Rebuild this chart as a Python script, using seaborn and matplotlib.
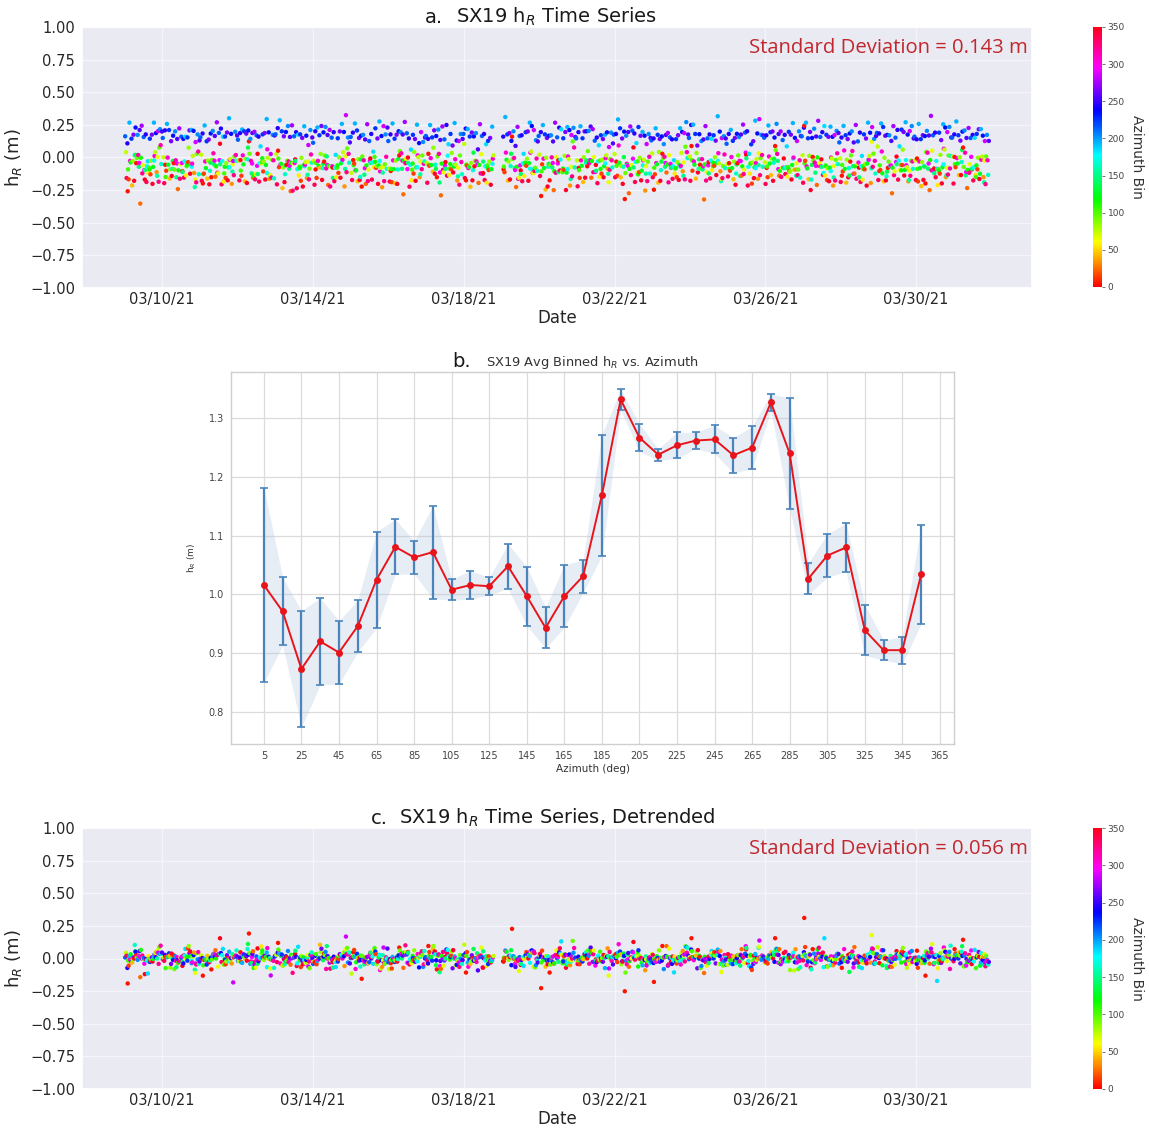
import numpy as np
import pandas as pd
import matplotlib
matplotlib.use("Agg")
import matplotlib.pyplot as plt
import matplotlib.dates as mdates
from matplotlib.colors import Normalize
from matplotlib.cm import ScalarMappable
import seaborn as sns

# ---------------- panel b: binned hR vs azimuth ----------------
az_bins = [5, 15, 25, 35, 45, 55, 65, 75, 85, 95, 105, 115, 125, 135, 145, 155, 165, 175,
           185, 195, 205, 215, 225, 235, 245, 255, 265, 275, 285, 295, 305, 315, 325, 335, 345, 355]
bin_mean = [1.016, 0.971, 0.873, 0.920, 0.901, 0.946, 1.025, 1.081, 1.063, 1.072, 1.008, 1.016,
            1.014, 1.048, 0.997, 0.943, 0.997, 1.031, 1.169, 1.332, 1.267, 1.238, 1.254, 1.262,
            1.264, 1.237, 1.250, 1.327, 1.240, 1.027, 1.066, 1.080, 0.939, 0.905, 0.905, 1.034]
bin_std = [0.166, 0.058, 0.099, 0.074, 0.054, 0.044, 0.082, 0.047, 0.028, 0.079, 0.018, 0.024,
           0.015, 0.038, 0.050, 0.035, 0.053, 0.028, 0.103, 0.018, 0.023, 0.010, 0.022, 0.014,
           0.024, 0.030, 0.036, 0.015, 0.094, 0.027, 0.037, 0.041, 0.043, 0.017, 0.023, 0.084]
az_ticks = list(range(5, 366, 20))

# ---------------- panels a / c: time series ----------------
start_date = "2021-03-09"
n_days = 23
gap_start = "2021-03-18 19:00"
gap_end = "2021-03-19 01:00"
sidereal_shift_h = 0.0655   # GPS tracks repeat ~4 min earlier each day

# daily satellite track schedule (hour of day, azimuth bin)
track_hour = [0.4, 0.9, 1.3, 1.8, 2.0, 2.2, 2.6, 3.1, 3.5, 3.9,
              4.4, 4.8, 5.2, 5.7, 6.1, 6.5, 6.8, 7.0, 7.4, 7.8,
              8.3, 8.7, 9.1, 9.4, 9.6, 10.0, 10.4, 10.9, 11.3, 11.7,
              12.2, 12.6, 12.9, 13.0, 13.5, 13.9, 14.3, 14.8, 15.2, 15.6,
              15.9, 16.1, 16.5, 16.9, 17.4, 17.8, 18.2, 18.7, 18.9, 19.1,
              19.5, 20.0, 20.4, 20.8, 21.0, 21.3, 21.7, 22.1, 22.6, 23.0,
              23.4, 23.8]
track_bin = [215, 75, 335, 245, 5, 105, 15, 195, 305, 125,
             225, 45, 85, 265, 345, 165, 135, 235, 5, 95,
             205, 315, 145, 295, 255, 25, 115, 275, 325, 65,
             215, 295, 355, 145, 245, 335, 175, 185, 55, 105,
             115, 225, 15, 85, 265, 345, 125, 195, 175, 305,
             75, 235, 35, 155, 65, 285, 325, 95, 205, 315,
             165, 255]

# normalised per-retrieval deviations from the bin mean (read as typical spread)
resid_norm = [0.3, -0.8, 1.1, -0.2, 0.6, -1.4, 0.1, 0.9, -0.5, 0.0, 1.7, -0.9, 0.4, -0.3,
              0.7, -1.1, 0.2, -0.6, 1.3, -0.1, 0.5, -2.1, 0.8, -0.4, 0.0, 1.0, -0.7, 0.3,
              -1.6, 0.6, 0.2, -0.2, 2.2, -0.8, 0.4, -0.5, 0.9, -1.2, 0.1, 0.7, -0.3, 1.5,
              -1.0, 0.0, 0.5, -0.6, 1.2, -0.1, -1.8, 0.6, 0.3, -0.4, 0.8, -0.9, 0.2, 1.9,
              -0.2, 0.4, -1.3, 0.1, 0.7, -0.7, 0.0, 1.1, -0.5, 0.3, -2.4, 0.9, -0.1, 0.5,
              -0.8, 1.4, -0.3, 0.2, -1.0, 0.6, 0.0, -0.6, 2.6, -0.4, 0.3, -1.5, 0.8, 0.1,
              -0.2, 1.0, -0.9, 0.4, -0.1, 0.7, -1.1, 0.2, 1.6, -0.7, 0.5, -0.3, 0.9, -1.7,
              0.0, 0.6, -0.4, 1.2, -0.8, 0.3, -0.2, 2.0, -1.2, 0.1, 0.4, -0.6, 0.8, -0.1,
              1.3, -0.5, 0.2, -1.9, 0.6, 0.0, -0.3, 1.8, -0.7, 0.4, -1.0, 0.1, 0.9, -0.4,
              0.2]
resid_floor = 0.02   # m, common noise level
resid_gain = 0.6     # fraction of bin spread

std_text_a = "Standard Deviation = 0.143 m"
std_text_c = "Standard Deviation = 0.056 m"

# ---------------- build table ----------------
mean_of = dict(zip(az_bins, bin_mean))
std_of = dict(zip(az_bins, bin_std))
t0 = pd.Timestamp(start_date)
rows = []
nres = len(resid_norm)
for d in range(n_days):
    for j, (h, b) in enumerate(zip(track_hour, track_bin)):
        t = t0 + pd.Timedelta(days=d) + pd.Timedelta(hours=h - sidereal_shift_h * d)
        r = resid_norm[(j * 7 + d * 31) % nres] * (resid_floor + resid_gain * std_of[b])
        rows.append((t, b, mean_of[b] + r, r))
df = pd.DataFrame(rows, columns=["time", "az", "raw", "detr"])
df = df[~((df.time > pd.Timestamp(gap_start)) & (df.time < pd.Timestamp(gap_end)))]
df["hr"] = df["raw"] - df["raw"].mean()

# ---------------- figure ----------------
sns.set_theme(style="darkgrid")
plt.rcParams['font.family'] = ['DejaVu Sans']
W, H = 1149, 1131
fig = plt.figure(figsize=(W / 100, H / 100), dpi=100)


def frac(l, t, r, b):
    return [l / W, 1 - b / H, (r - l) / W, (b - t) / H]


norm = Normalize(0, 350)
cmap = plt.get_cmap("hsv")
red = "#C1272D"
dark = "#262626"


def ts_panel(ax_rect, cb_rect, ycol, title, letter, letter_x, std_text):
    ax = fig.add_axes(frac(*ax_rect))
    sns.scatterplot(data=df, x="time", y=ycol, hue="az", palette="hsv", hue_norm=(0, 350),
                    s=10, linewidth=0, legend=False, ax=ax)
    ax.set_ylim(-1, 1)
    ax.set_yticks(np.arange(-1, 1.01, 0.25))
    ax.xaxis.set_major_locator(mdates.DayLocator(bymonthday=[10, 14, 18, 22, 26, 30]))
    ax.xaxis.set_major_formatter(mdates.DateFormatter("%m/%d/%y"))
    ax.grid(True, color="#f6f6fa", linewidth=0.9)
    ax.tick_params(axis="both", labelsize=10.5, colors=dark, length=0)
    ax.tick_params(axis="y", pad=5)
    ax.tick_params(axis="x", pad=3)
    ax.set_xlabel("Date", fontsize=12, color=dark, labelpad=1)
    ax.set_ylabel(r"h$_R$ (m)", fontsize=13, color=dark, labelpad=4)
    ax.set_title(title, fontsize=14, color="#1a1a1a", pad=3)
    fig.text(letter_x / W, 1 - (ax_rect[1] - 4) / H, letter, fontsize=14, color="#1a1a1a",
             ha="left", va="baseline")
    ax.text(0.996, 0.90, std_text, transform=ax.transAxes, ha="right", va="baseline",
            fontsize=14.6, color=red, family="Open Sans")
    cax = fig.add_axes(frac(*cb_rect))
    cb = fig.colorbar(ScalarMappable(norm=norm, cmap=cmap), cax=cax,
                      ticks=list(range(0, 351, 50)))
    cb.outline.set_visible(False)
    cax.tick_params(labelsize=6.5, colors="#444444", length=2, width=0.5, pad=2)
    cb.set_label("Azimuth Bin", rotation=270, fontsize=10, color="#333333", labelpad=14)
    return ax


ax_a = ts_panel((82, 27, 1032, 288), (1093, 27, 1102, 287), "hr",
                r"SX19 h$_R$ Time Series", "a.", 425, std_text_a)
ax_c = ts_panel((82, 828, 1032, 1089), (1093, 828, 1102, 1089), "detr",
                r"SX19 h$_R$ Time Series, Detrended", "c.", 371, std_text_c)

# ---------------- panel b ----------------
ax_b = fig.add_axes(frac(231, 372, 954, 744))
ax_b.set_facecolor("white")
lo = [m - s for m, s in zip(bin_mean, bin_std)]
hi = [m + s for m, s in zip(bin_mean, bin_std)]
ax_b.fill_between(az_bins, lo, hi, color="#b0c4de", alpha=0.3, linewidth=0, zorder=1)
ax_b.errorbar(az_bins, bin_mean, yerr=bin_std, fmt="none", ecolor="#4a84bb",
              elinewidth=1.6, capsize=3.2, capthick=1.2, zorder=2)
sns.lineplot(x=az_bins, y=bin_mean, color="#e8141c", marker="o", markersize=5,
             markeredgewidth=0, linewidth=1.4, ax=ax_b, zorder=3)
ax_b.set_xticks(az_ticks)
ax_b.grid(True, color="#dcdcdc", linewidth=0.9)
for sp in ax_b.spines.values():
    sp.set_visible(True)
    sp.set_color("#cfcfcf")
    sp.set_linewidth(1.0)
ax_b.tick_params(labelsize=7, colors="#444444", length=0, pad=5)
ax_b.set_xlabel("Azimuth (deg)", fontsize=7.5, color="#333333", labelpad=2)
ax_b.set_ylabel(r"h$_R$ (m)", fontsize=6.5, color="#333333", labelpad=8)
ax_b.set_title(r"SX19 Avg Binned h$_R$ vs. Azimuth", fontsize=9.4, color="#333333", pad=4)
fig.text(452 / W, 1 - 367 / H, "b.", fontsize=14, color="#1a1a1a", ha="left", va="baseline")

fig.savefig("out.png", dpi=100)
